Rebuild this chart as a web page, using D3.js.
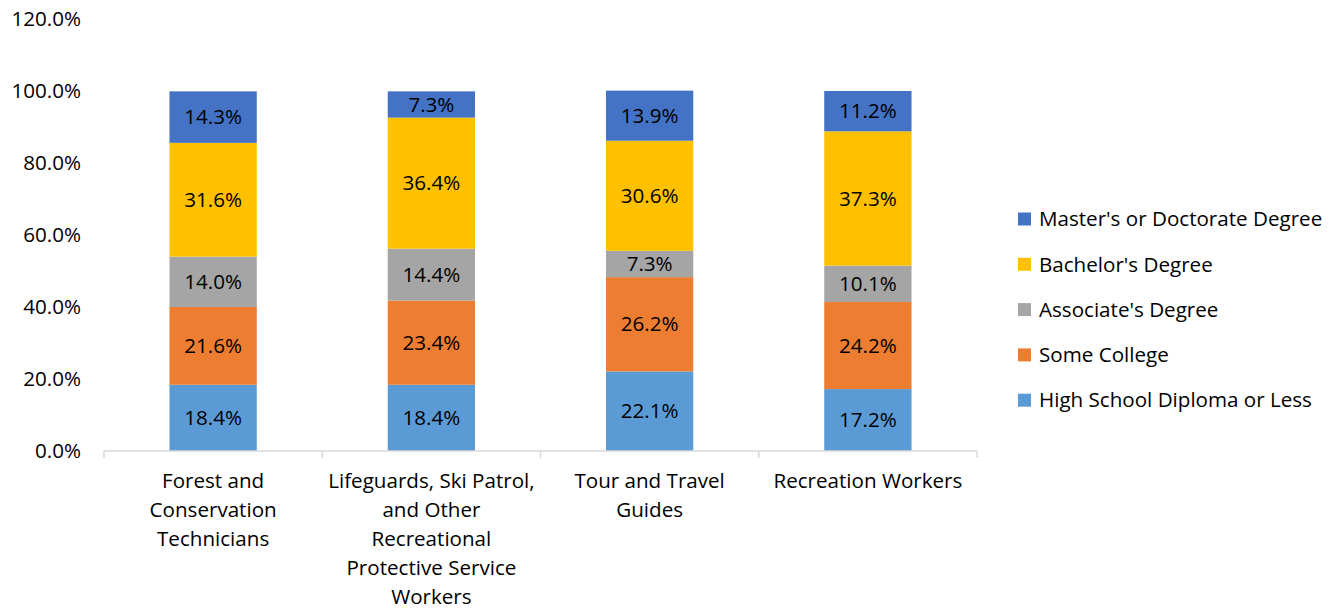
<!DOCTYPE html>
<html>
<head>
<meta charset="utf-8">
<script src="https://cdn.jsdelivr.net/npm/d3@7"></script>
<style>
  body { margin: 0; background: #fff; }
  svg text { font-family: "Open Sans", sans-serif; fill: #000; }
</style>
</head>
<body>
<svg id="chart"></svg>
<script>
// categories (x axis), one label line per entry
const categories = [
  ["Forest and", "Conservation", "Technicians"],
  ["Lifeguards, Ski Patrol,", "and Other", "Recreational", "Protective Service", "Workers"],
  ["Tour and Travel", "Guides"],
  ["Recreation Workers"]
];

// series, bottom to top of the stack
const seriesNames = ["High School Diploma or Less", "Some College", "Associate's Degree", "Bachelor's Degree", "Master's or Doctorate Degree"];
const seriesColors = ["#5b9bd5", "#ed7d31", "#a5a5a5", "#ffc000", "#4472c4"];

const highSchool = [18.4, 18.4, 22.1, 17.2];
const someCollege = [21.6, 23.4, 26.2, 24.2];
const associate = [14.0, 14.4, 7.3, 10.1];
const bachelor = [31.6, 36.4, 30.6, 37.3];
const masters = [14.3, 7.3, 13.9, 11.2];

const yTicks = [0, 20, 40, 60, 80, 100, 120];

const config = {
  width: 1342,
  height: 610,
  margin: { top: 19, bottom: 159, left: 104, right: 365 },
  fontSize: "20.6px"
};

const svg = d3.select("#chart")
    .attr("width", config.width)
    .attr("height", config.height);

const innerW = config.width - config.margin.left - config.margin.right;
const innerH = config.height - config.margin.top - config.margin.bottom;

const chart = svg.append("g")
    .attr("transform", `translate(${config.margin.left},${config.margin.top})`);

const xScale = d3.scaleBand()
    .domain(d3.range(categories.length))
    .range([0, innerW]);

const yScale = d3.scaleLinear()
    .domain([0, 120])
    .range([innerH, 0]);

const barW = xScale.bandwidth() * 0.4;

// y axis labels (no line, no gridlines)
const yAxis = d3.axisLeft(yScale)
    .tickValues(yTicks)
    .tickSize(0)
    .tickPadding(23)
    .tickFormat(d => d.toFixed(1) + "%");

chart.append("g")
    .call(yAxis)
    .call(g => g.select(".domain").remove())
    .selectAll("text")
      .style("font-size", config.fontSize)
      .style("font-family", '"Open Sans", sans-serif')
      .attr("fill", "#000");

// stacked data
const seriesValues = [highSchool, someCollege, associate, bachelor, masters];
const rows = categories.map((c, i) => {
  const r = { idx: i };
  seriesNames.forEach((s, j) => { r[s] = seriesValues[j][i]; });
  return r;
});
const stacked = d3.stack().keys(seriesNames)(rows);

const layers = chart.selectAll(".layer")
    .data(stacked)
    .join("g")
      .attr("class", "layer")
      .attr("fill", (d, i) => seriesColors[i]);

layers.selectAll("rect")
    .data(d => d)
    .join("rect")
      .attr("x", d => xScale(d.data.idx) + (xScale.bandwidth() - barW) / 2)
      .attr("y", d => yScale(d[1]))
      .attr("width", barW)
      .attr("height", d => yScale(d[0]) - yScale(d[1]));

layers.selectAll("text")
    .data(d => d)
    .join("text")
      .attr("x", d => xScale(d.data.idx) + xScale.bandwidth() / 2)
      .attr("y", d => (yScale(d[0]) + yScale(d[1])) / 2)
      .attr("dy", "0.35em")
      .attr("text-anchor", "middle")
      .style("font-size", config.fontSize)
      .text(d => (d[1] - d[0]).toFixed(1) + "%");

// x axis line with ticks at category boundaries
const xAxisG = chart.append("g")
    .attr("transform", `translate(0,${innerH})`);

xAxisG.append("line")
    .attr("x1", 0).attr("x2", innerW)
    .attr("stroke", "#d9d9d9")
    .attr("stroke-width", 1.5);

xAxisG.selectAll(".xtick")
    .data(d3.range(categories.length + 1))
    .join("line")
      .attr("class", "xtick")
      .attr("x1", d => d * xScale.step())
      .attr("x2", d => d * xScale.step())
      .attr("y1", 0).attr("y2", 7)
      .attr("stroke", "#d9d9d9")
      .attr("stroke-width", 1.5);

xAxisG.selectAll(".xlabel")
    .data(categories)
    .join("text")
      .attr("class", "xlabel")
      .attr("text-anchor", "middle")
      .attr("transform", (d, i) => `translate(${xScale(i) + xScale.bandwidth() / 2},36.5)`)
      .style("font-size", config.fontSize)
      .selectAll("tspan")
      .data(d => d)
      .join("tspan")
        .attr("x", 0)
        .attr("y", (d, i) => i * 29)
        .text(d => d);

// legend, top to bottom is reverse stack order
const legendKeys = seriesNames.slice().reverse();
const legendColors = seriesColors.slice().reverse();

const legend = svg.append("g")
    .attr("transform", "translate(1018,219)");

legend.selectAll("rect")
    .data(legendKeys)
    .join("rect")
      .attr("x", 0)
      .attr("y", (d, i) => i * 45.3 - 6.5)
      .attr("width", 13)
      .attr("height", 13)
      .attr("fill", (d, i) => legendColors[i]);

legend.selectAll("text")
    .data(legendKeys)
    .join("text")
      .attr("x", 21)
      .attr("y", (d, i) => i * 45.3)
      .attr("dy", "0.35em")
      .style("font-size", config.fontSize)
      .text(d => d);
</script>
</body>
</html>
